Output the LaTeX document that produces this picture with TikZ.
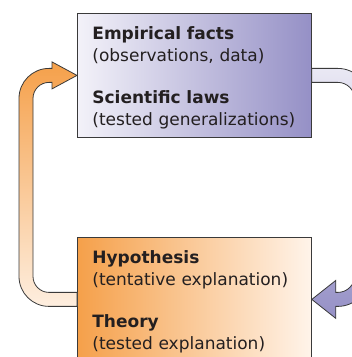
\documentclass[tikz,border=0pt]{standalone}
\usepackage{fontspec}
\setmainfont{DejaVu Sans}
\usepackage{tikz}
\usetikzlibrary{calc}
\usetikzlibrary{positioning}
\definecolor{lavlight}{HTML}{F3F2F9}
\definecolor{lavdeep}{HTML}{9590C6}
\definecolor{orangedeep}{HTML}{F5A04A}
\definecolor{orangepale}{HTML}{FFF4EA}
\definecolor{inkgray}{HTML}{231F20}
\definecolor{edgegray}{HTML}{3A3A3A}
\tikzset{block/.style={draw=edgegray, line width=0.8pt, text=inkgray, minimum height=124pt, text width=204pt, inner xsep=15pt, align=left, font=\fontsize{17}{21.5}\selectfont, execute at begin node=\rule{0pt}{18pt}}}
\tikzset{fatarrow/.style={draw=edgegray, line width=0.8pt}}

\begin{document}
\begin{tikzpicture}[x=1pt,y=1pt]

\useasboundingbox (0,0) rectangle (352,357);
\clip (0,0) rectangle (352,357);

%facts
\node[block, anchor=north west, left color=lavlight, right color=lavdeep] (facts) at (77,344) {\textbf{Empirical facts}\\(observations, data)\\[21pt]\textbf{Scientific laws}\\(tested generalizations)};
%theory
\node[block, anchor=north west, left color=orangedeep, right color=orangepale] (theory) at (77,120) {\textbf{Hypothesis}\\(tentative explanation)\\[21pt]\textbf{Theory}\\(tested explanation)};

%theory to facts
\path[fatarrow, top color=orangedeep, bottom color=orangepale!80!orangedeep!60]
 ([yshift=7pt]theory.west) -- ([xshift=-28pt,yshift=7pt]theory.west) arc[start angle=270,end angle=180,radius=16pt]
 -- ([xshift=-44pt,yshift=-23pt]facts.west) arc[start angle=180,end angle=90,radius=16pt]
 -- ([xshift=-25pt,yshift=-7pt]facts.west) -- ([xshift=-25pt,yshift=-13.5pt]facts.west) -- (facts.west)
 -- ([xshift=-25pt,yshift=13.5pt]facts.west) -- ([xshift=-25pt,yshift=7pt]facts.west)
 -- ([xshift=-28pt,yshift=7pt]facts.west) arc[start angle=90,end angle=180,radius=30pt]
 -- ([xshift=-58pt,yshift=23pt]theory.west) arc[start angle=180,end angle=270,radius=30pt]
 -- ([yshift=-7pt]theory.west) -- cycle;

%facts to theory
\path[fatarrow, top color=lavlight!90!lavdeep, bottom color=lavdeep]
 ([yshift=7pt]facts.east) -- ([xshift=26pt,yshift=7pt]facts.east) arc[start angle=90,end angle=0,radius=31pt]
 -- ([xshift=57pt,yshift=24pt]theory.east) arc[start angle=0,end angle=-90,radius=31pt]
 -- ([xshift=24pt,yshift=-7pt]theory.east) -- ([xshift=24pt,yshift=-19pt]theory.east) -- (theory.east)
 -- ([xshift=24pt,yshift=19pt]theory.east) -- ([xshift=24pt,yshift=7pt]theory.east)
 -- ([xshift=26pt,yshift=7pt]theory.east) arc[start angle=-90,end angle=0,radius=17pt]
 -- ([xshift=43pt,yshift=-24pt]facts.east) arc[start angle=0,end angle=90,radius=17pt]
 -- ([yshift=-7pt]facts.east) -- cycle;

\end{tikzpicture}
\end{document}
